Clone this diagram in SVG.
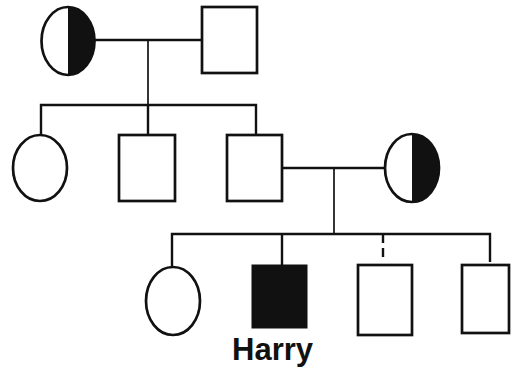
<svg xmlns="http://www.w3.org/2000/svg" width="511" height="370" viewBox="0 0 511 370">
<style>
.s{fill:#fff;stroke:#111;stroke-width:2.7}
.f{fill:#111}
.l{fill:none;stroke:#111;stroke-width:2.4}
.t{stroke-width:1.7}
.d{stroke-dasharray:9 5}
text{font-family:"Liberation Sans",Arial,sans-serif;font-weight:bold;font-size:31px;fill:#111}
</style>
<rect width="511" height="370" fill="#fff"/>
<g id="connectors">
<path class="l" d="M94 40H202"/>
<path class="l t" d="M148 40V105"/>
<path class="l" d="M41 135V105H256V135M148 105V135"/>
<path class="l" d="M282 168H386"/>
<path class="l t" d="M334 168V234"/>
<path class="l" d="M172 267V234H490V262M282 234V265"/>
<path class="l d" d="M383 234V258"/>
</g>
<g id="gen1-mother"><ellipse class="s" cx="68" cy="41" rx="26.5" ry="34"/><path class="f" d="M68 7A26.5 34 0 0 1 68 75Z"/></g>
<g id="gen1-father"><rect class="s" x="202" y="7" width="55" height="66"/></g>
<g id="gen2-daughter"><ellipse class="s" cx="40" cy="168" rx="27" ry="33"/></g>
<g id="gen2-son1"><rect class="s" x="119" y="135" width="56" height="66"/></g>
<g id="gen2-son2"><rect class="s" x="227" y="135" width="55" height="66"/></g>
<g id="gen2-wife"><ellipse class="s" cx="412" cy="168" rx="27" ry="34"/><path class="f" d="M412 134A27 34 0 0 1 412 202Z"/></g>
<g id="gen3-daughter"><ellipse class="s" cx="173" cy="301" rx="27" ry="34"/></g>
<g id="harry"><rect x="252" y="265" width="55" height="63" fill="#111" stroke="#111" stroke-width="1"/><text x="232" y="360">Harry</text></g>
<g id="gen3-son2"><rect class="s" x="358" y="265" width="54" height="70"/></g>
<g id="gen3-son3"><rect class="s" x="462" y="265" width="47" height="68"/></g>
</svg>
